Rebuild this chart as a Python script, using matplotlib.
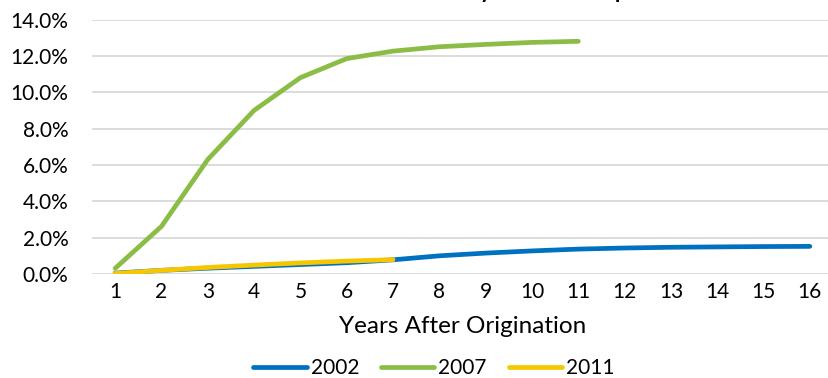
import matplotlib
matplotlib.use("Agg")
import matplotlib.pyplot as plt
from matplotlib.ticker import PercentFormatter, MultipleLocator

plt.rcParams['font.family'] = ['Lato', 'DejaVu Sans']

years = list(range(1, 17))
series_2002 = [0.0005, 0.0020, 0.0032, 0.0042, 0.0052, 0.0062, 0.0078, 0.0100,
               0.0115, 0.0127, 0.0137, 0.0143, 0.0147, 0.0149, 0.0151, 0.0152]
series_2007 = [0.0031, 0.0262, 0.0630, 0.0900, 0.1080, 0.1185, 0.1226, 0.1250,
               0.1263, 0.1274, 0.1280]
series_2011 = [0.0003, 0.0020, 0.0036, 0.0049, 0.0061, 0.0071, 0.0079]
labels = ["2002", "2007", "2011"]
colors = ["#0070C0", "#8BBC45", "#F6C700"]
title = "Cumulative Default Rates by Cohort: Subprime"

fig = plt.figure(figsize=(8.29, 3.78), dpi=100)
W, H = 829, 378
ax = fig.add_axes([92 / W, 104 / H, (833 - 92) / W, (358.5 - 104) / H])

data = [series_2002, series_2007, series_2011]
for vals, lab, col in zip(data, labels, colors):
    ax.plot(years[:len(vals)], vals, color=col, lw=3.4, label=lab,
            solid_capstyle='round', solid_joinstyle='round')

ax.set_xlim(0.5, 16.5)
ax.set_ylim(0, 0.14)
ax.yaxis.set_major_locator(MultipleLocator(0.02))
ax.yaxis.set_major_formatter(PercentFormatter(1.0, decimals=1))
ax.set_xticks(years)
ax.grid(axis='y', color='#D9D9D9', lw=1.3)
ax.set_axisbelow(True)
for s in ax.spines.values():
    s.set_visible(False)
ax.tick_params(axis='both', length=0, labelsize=15, colors='#000000')
ax.tick_params(axis='y', pad=17)
ax.tick_params(axis='x', pad=6)
ax.set_xlabel("Years After Origination", fontsize=17.5, labelpad=10)

fig.text(440 / W, 1 + 1.5 / H, title, ha='center', va='baseline',
         fontsize=16, fontweight='bold')

fig.legend(loc='center', bbox_to_anchor=(434 / W, 1 - 368 / H), ncol=3,
           frameon=False, fontsize=15, handlelength=2.55, handletextpad=0.2,
           columnspacing=1.05, borderaxespad=0)

fig.savefig("out.png", dpi=100)
